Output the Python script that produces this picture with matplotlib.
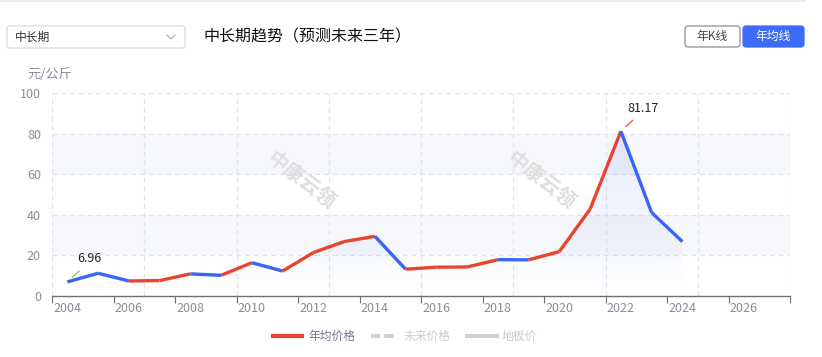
import numpy as np
import matplotlib
matplotlib.use("Agg")
import matplotlib.pyplot as plt
from matplotlib.patches import FancyBboxPatch, PathPatch
from matplotlib.path import Path

plt.rcParams["font.family"] = ["Noto Sans CJK SC", "DejaVu Sans"]

# 数据
years = list(range(2004, 2028))          # 类目轴（含未来三年）
price_years = list(range(2004, 2025))
prices = [6.96, 11.2, 7.4, 7.6, 10.9, 10.2, 16.4, 12.3, 21.4, 26.8, 29.4,
          13.2, 14.2, 14.3, 17.9, 17.8, 21.9, 42.8, 81.17, 41.1, 26.8]
# 各段走势：d=蓝色段, u=红色段
trend = "dduududuuuduuuduuudd"
y_ticks = [0, 20, 40, 60, 80, 100]
marks = {2004: ("6.96", "#7cc84e"), 2022: ("81.17", "#ee4b35")}

RED = "#e9442e"
BLUE = "#3a63f7"
GRID = "#dfe2ef"

fig = plt.figure(figsize=(8.22, 3.57), dpi=100)
W, H = 822, 357
ax = fig.add_axes([52 / W, (H - 296) / H, (790 - 52) / W, (296 - 93) / H])

n = len(years)
ax.set_xlim(-0.5, n - 0.5)
ax.set_ylim(0, 100)

# 背景分隔带
for lo in (20, 60):
    ax.axhspan(lo, lo + 20, color="#f6f7fb", zorder=0, lw=0)

# 网格
for y in y_ticks[1:]:
    ax.axhline(y, color=GRID, lw=0.9, ls=(0, (4, 3)), zorder=1)
for xb in np.arange(-0.5, n, 3):
    ax.axvline(xb, color=GRID, lw=0.9, ls=(0, (4, 3)), zorder=1)

xs = np.arange(len(prices))

# 渐变面积
grad = np.linspace(0, 1, 256).reshape(-1, 1)
cmap = matplotlib.colors.LinearSegmentedColormap.from_list(
    "g", [(0.24, 0.42, 0.98, 0.0), (0.24, 0.42, 0.98, 0.16)])
im = ax.imshow(grad, extent=(0, xs[-1], 0, 100), origin="lower",
               cmap=cmap, aspect="auto", zorder=2)
verts = [(0, 0)] + list(zip(xs, prices)) + [(xs[-1], 0), (0, 0)]
clip = PathPatch(Path(verts), transform=ax.transData, facecolor="none", edgecolor="none")
ax.add_patch(clip)
im.set_clip_path(clip)

# 折线
for i, t in enumerate(trend):
    ax.plot(xs[i:i + 2], prices[i:i + 2], color=BLUE if t == "d" else RED,
            lw=2.4, solid_capstyle="butt", solid_joinstyle="miter", zorder=4)

# 标注
for yr, (txt, col) in marks.items():
    i = price_years.index(yr)
    v = prices[i]
    ax.annotate("", xy=(i, v), xycoords="data", xytext=(12, 11),
                textcoords="offset pixels",
                arrowprops=dict(arrowstyle="-", color=col, lw=0.9, shrinkA=0, shrinkB=5),
                zorder=5)
    ax.annotate(txt, xy=(i, v), xytext=(22, 23), textcoords="offset pixels",
                ha="center", va="center", fontsize=9, color="#222222", zorder=5)

# 水印
for xw in (7.6, 15.4):
    ax.text(xw, 57, "中康云领", rotation=-38, fontsize=14.5, fontweight="bold",
            color="#dedede", ha="center", va="center", zorder=3)

# 坐标轴
for s in ("left", "right", "top"):
    ax.spines[s].set_visible(False)
ax.spines["bottom"].set_color("#6e7079")
ax.spines["bottom"].set_linewidth(1.0)
ax.set_yticks(y_ticks)
ax.set_yticklabels([str(v) for v in y_ticks])
ax.tick_params(axis="y", length=0, pad=8, labelcolor="#8a8d99", labelsize=9)
ax.set_xticks(np.arange(-0.5, n, 2))
ax.set_xticklabels([])
ax.tick_params(axis="x", which="major", length=5, color="#6e7079")
ax.set_xticks(np.arange(0, n, 2), minor=True)
ax.set_xticklabels([str(years[i]) for i in range(0, n, 2)], minor=True)
ax.tick_params(axis="x", which="minor", length=0, pad=4, labelcolor="#8a8d99", labelsize=9)

# 顶部控件（像素坐标）
ov = fig.add_axes([0, 0, 1, 1], zorder=-1)
ov.set_xlim(0, W)
ov.set_ylim(H, 0)
ov.axis("off")
ov.plot([0, 805], [1, 1], color="#e6e8ef", lw=1.2)
ov.add_patch(FancyBboxPatch((7, 26), 178, 22, boxstyle="round,pad=0,rounding_size=3",
                            fc="white", ec="#d7d9e0", lw=0.9))
ov.text(15, 37.5, "中长期", fontsize=8.5, color="#333333", va="center")
ov.plot([167, 171, 175], [35, 39, 35], color="#b5b7bf", lw=0.9)
ov.text(203, 37, "中长期趋势（预测未来三年）", fontsize=11.5, color="#111111", va="center")
ov.add_patch(FancyBboxPatch((685, 26), 55, 21, boxstyle="round,pad=0,rounding_size=3",
                            fc="white", ec="#8c8f99", lw=0.9))
ov.text(712.5, 36.5, "年K线", fontsize=8.5, color="#444444", ha="center", va="center")
ov.add_patch(FancyBboxPatch((743, 26), 61, 21, boxstyle="round,pad=0,rounding_size=3",
                            fc="#3e6cfa", ec="#3e6cfa", lw=0.9))
ov.text(773.5, 36.5, "年均线", fontsize=8.5, color="white", ha="center", va="center")
ov.text(27, 74, "元/公斤", fontsize=9.5, color="#8a8d99", va="center")

# 图例
ov.plot([273, 302], [336, 336], color=RED, lw=3)
ov.text(308, 336, "年均价格", fontsize=8.5, color="#6e7591", va="center")
ov.plot([371, 397], [336, 336], color="#d0d0d0", lw=3, ls=(0, (2.2, 1)))
ov.text(404, 336, "未来价格", fontsize=8.5, color="#cccccc", va="center")
ov.plot([467, 497], [336, 336], color="#d0d0d0", lw=3)
ov.text(502, 336, "地板价", fontsize=8.5, color="#cccccc", va="center")

fig.savefig("out.png", dpi=100)
